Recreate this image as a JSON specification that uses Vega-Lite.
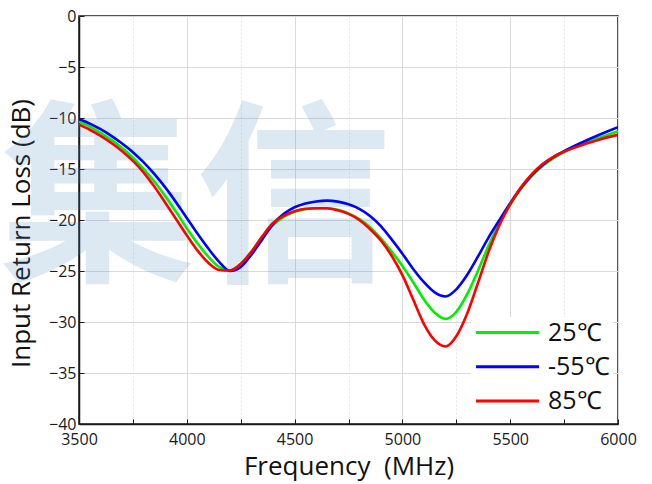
{
  "$schema": "https://vega.github.io/schema/vega-lite/v6.json",
  "width": 539,
  "height": 408,
  "autosize": {"type": "none"},
  "padding": {"left": 79, "top": 16, "right": 34, "bottom": 60},
  "background": "white",
  "config": {
    "view": {"stroke": "#1a1a1a", "strokeWidth": 1.5},
    "font": "Open Sans",
    "axis": {
      "domainColor": "#1a1a1a",
      "domainWidth": 1.5,
      "tickColor": "#1a1a1a",
      "tickWidth": 1,
      "tickSize": -5,
      "labelFlush": false,
      "labelFont": "Open Sans",
      "labelFontSize": 16,
      "labelColor": "#1a1a1a",
      "titleFont": "Open Sans",
      "titleFontSize": 26,
      "titleFontWeight": "normal",
      "titleColor": "#111111"
    }
  },
  "datasets": {
    "mark": [{"label": "集信", "f": 4043, "db": -18.7}],
    "curves": [
      {"series": "25℃", "f": 3500, "db": -10.35},
      {"series": "25℃", "f": 3550, "db": -10.85},
      {"series": "25℃", "f": 3600, "db": -11.45},
      {"series": "25℃", "f": 3650, "db": -12.15},
      {"series": "25℃", "f": 3700, "db": -12.95},
      {"series": "25℃", "f": 3750, "db": -13.9},
      {"series": "25℃", "f": 3800, "db": -15.0},
      {"series": "25℃", "f": 3850, "db": -16.25},
      {"series": "25℃", "f": 3900, "db": -17.65},
      {"series": "25℃", "f": 3950, "db": -19.2},
      {"series": "25℃", "f": 4000, "db": -20.8},
      {"series": "25℃", "f": 4050, "db": -22.3},
      {"series": "25℃", "f": 4100, "db": -23.6},
      {"series": "25℃", "f": 4150, "db": -24.6},
      {"series": "25℃", "f": 4200, "db": -24.95},
      {"series": "25℃", "f": 4250, "db": -24.3},
      {"series": "25℃", "f": 4300, "db": -23.1},
      {"series": "25℃", "f": 4350, "db": -21.7},
      {"series": "25℃", "f": 4400, "db": -20.5},
      {"series": "25℃", "f": 4450, "db": -19.7},
      {"series": "25℃", "f": 4500, "db": -19.2},
      {"series": "25℃", "f": 4550, "db": -18.95},
      {"series": "25℃", "f": 4600, "db": -18.85},
      {"series": "25℃", "f": 4650, "db": -18.85},
      {"series": "25℃", "f": 4700, "db": -19.0},
      {"series": "25℃", "f": 4750, "db": -19.35},
      {"series": "25℃", "f": 4800, "db": -19.9},
      {"series": "25℃", "f": 4850, "db": -20.7},
      {"series": "25℃", "f": 4900, "db": -21.8},
      {"series": "25℃", "f": 4950, "db": -23.1},
      {"series": "25℃", "f": 5000, "db": -24.5},
      {"series": "25℃", "f": 5050, "db": -26.1},
      {"series": "25℃", "f": 5100, "db": -27.8},
      {"series": "25℃", "f": 5150, "db": -29.1},
      {"series": "25℃", "f": 5200, "db": -29.7},
      {"series": "25℃", "f": 5250, "db": -29.0},
      {"series": "25℃", "f": 5300, "db": -27.3},
      {"series": "25℃", "f": 5350, "db": -25.0},
      {"series": "25℃", "f": 5400, "db": -22.5},
      {"series": "25℃", "f": 5450, "db": -20.3},
      {"series": "25℃", "f": 5500, "db": -18.5},
      {"series": "25℃", "f": 5550, "db": -16.95},
      {"series": "25℃", "f": 5600, "db": -15.7},
      {"series": "25℃", "f": 5650, "db": -14.7},
      {"series": "25℃", "f": 5700, "db": -13.95},
      {"series": "25℃", "f": 5750, "db": -13.35},
      {"series": "25℃", "f": 5800, "db": -12.85},
      {"series": "25℃", "f": 5850, "db": -12.42},
      {"series": "25℃", "f": 5900, "db": -12.03},
      {"series": "25℃", "f": 5950, "db": -11.66},
      {"series": "25℃", "f": 6000, "db": -11.3},
      {"series": "-55℃", "f": 3500, "db": -10.1},
      {"series": "-55℃", "f": 3550, "db": -10.55},
      {"series": "-55℃", "f": 3600, "db": -11.1},
      {"series": "-55℃", "f": 3650, "db": -11.75},
      {"series": "-55℃", "f": 3700, "db": -12.5},
      {"series": "-55℃", "f": 3750, "db": -13.35},
      {"series": "-55℃", "f": 3800, "db": -14.35},
      {"series": "-55℃", "f": 3850, "db": -15.5},
      {"series": "-55℃", "f": 3900, "db": -16.8},
      {"series": "-55℃", "f": 3950, "db": -18.25},
      {"series": "-55℃", "f": 4000, "db": -19.8},
      {"series": "-55℃", "f": 4050, "db": -21.35},
      {"series": "-55℃", "f": 4100, "db": -22.8},
      {"series": "-55℃", "f": 4150, "db": -24.1},
      {"series": "-55℃", "f": 4200, "db": -25.0},
      {"series": "-55℃", "f": 4250, "db": -24.6},
      {"series": "-55℃", "f": 4300, "db": -23.4},
      {"series": "-55℃", "f": 4350, "db": -21.9},
      {"series": "-55℃", "f": 4400, "db": -20.4},
      {"series": "-55℃", "f": 4450, "db": -19.4},
      {"series": "-55℃", "f": 4500, "db": -18.75},
      {"series": "-55℃", "f": 4550, "db": -18.38},
      {"series": "-55℃", "f": 4600, "db": -18.18},
      {"series": "-55℃", "f": 4650, "db": -18.1},
      {"series": "-55℃", "f": 4700, "db": -18.2},
      {"series": "-55℃", "f": 4750, "db": -18.45},
      {"series": "-55℃", "f": 4800, "db": -18.9},
      {"series": "-55℃", "f": 4850, "db": -19.6},
      {"series": "-55℃", "f": 4900, "db": -20.6},
      {"series": "-55℃", "f": 4950, "db": -21.9},
      {"series": "-55℃", "f": 5000, "db": -23.3},
      {"series": "-55℃", "f": 5050, "db": -24.8},
      {"series": "-55℃", "f": 5100, "db": -26.1},
      {"series": "-55℃", "f": 5150, "db": -27.1},
      {"series": "-55℃", "f": 5200, "db": -27.5},
      {"series": "-55℃", "f": 5250, "db": -26.8},
      {"series": "-55℃", "f": 5300, "db": -25.4},
      {"series": "-55℃", "f": 5350, "db": -23.6},
      {"series": "-55℃", "f": 5400, "db": -21.7},
      {"series": "-55℃", "f": 5450, "db": -20.0},
      {"series": "-55℃", "f": 5500, "db": -18.35},
      {"series": "-55℃", "f": 5550, "db": -16.85},
      {"series": "-55℃", "f": 5600, "db": -15.6},
      {"series": "-55℃", "f": 5650, "db": -14.6},
      {"series": "-55℃", "f": 5700, "db": -13.85},
      {"series": "-55℃", "f": 5750, "db": -13.25},
      {"series": "-55℃", "f": 5800, "db": -12.72},
      {"series": "-55℃", "f": 5850, "db": -12.23},
      {"series": "-55℃", "f": 5900, "db": -11.77},
      {"series": "-55℃", "f": 5950, "db": -11.33},
      {"series": "-55℃", "f": 6000, "db": -10.9},
      {"series": "85℃", "f": 3500, "db": -10.65},
      {"series": "85℃", "f": 3550, "db": -11.15},
      {"series": "85℃", "f": 3600, "db": -11.75},
      {"series": "85℃", "f": 3650, "db": -12.45},
      {"series": "85℃", "f": 3700, "db": -13.25},
      {"series": "85℃", "f": 3750, "db": -14.2},
      {"series": "85℃", "f": 3800, "db": -15.35},
      {"series": "85℃", "f": 3850, "db": -16.75},
      {"series": "85℃", "f": 3900, "db": -18.3},
      {"series": "85℃", "f": 3950, "db": -19.9},
      {"series": "85℃", "f": 4000, "db": -21.5},
      {"series": "85℃", "f": 4050, "db": -23.0},
      {"series": "85℃", "f": 4100, "db": -24.2},
      {"series": "85℃", "f": 4150, "db": -24.9},
      {"series": "85℃", "f": 4200, "db": -24.95},
      {"series": "85℃", "f": 4250, "db": -24.3},
      {"series": "85℃", "f": 4300, "db": -23.1},
      {"series": "85℃", "f": 4350, "db": -21.6},
      {"series": "85℃", "f": 4400, "db": -20.3},
      {"series": "85℃", "f": 4450, "db": -19.6},
      {"series": "85℃", "f": 4500, "db": -19.15},
      {"series": "85℃", "f": 4550, "db": -18.9},
      {"series": "85℃", "f": 4600, "db": -18.85},
      {"series": "85℃", "f": 4650, "db": -18.85},
      {"series": "85℃", "f": 4700, "db": -19.05},
      {"series": "85℃", "f": 4750, "db": -19.4},
      {"series": "85℃", "f": 4800, "db": -20.0},
      {"series": "85℃", "f": 4850, "db": -20.9},
      {"series": "85℃", "f": 4900, "db": -22.0},
      {"series": "85℃", "f": 4950, "db": -23.5},
      {"series": "85℃", "f": 5000, "db": -25.4},
      {"series": "85℃", "f": 5050, "db": -27.8},
      {"series": "85℃", "f": 5100, "db": -30.2},
      {"series": "85℃", "f": 5150, "db": -31.8},
      {"series": "85℃", "f": 5200, "db": -32.4},
      {"series": "85℃", "f": 5250, "db": -31.4},
      {"series": "85℃", "f": 5300, "db": -29.2},
      {"series": "85℃", "f": 5350, "db": -26.2},
      {"series": "85℃", "f": 5400, "db": -23.1},
      {"series": "85℃", "f": 5450, "db": -20.5},
      {"series": "85℃", "f": 5500, "db": -18.45},
      {"series": "85℃", "f": 5550, "db": -16.8},
      {"series": "85℃", "f": 5600, "db": -15.5},
      {"series": "85℃", "f": 5650, "db": -14.5},
      {"series": "85℃", "f": 5700, "db": -13.8},
      {"series": "85℃", "f": 5750, "db": -13.3},
      {"series": "85℃", "f": 5800, "db": -12.9},
      {"series": "85℃", "f": 5850, "db": -12.53},
      {"series": "85℃", "f": 5900, "db": -12.2},
      {"series": "85℃", "f": 5950, "db": -11.9},
      {"series": "85℃", "f": 6000, "db": -11.65}
    ]
  },
  "layer": [
    {
      "data": {"name": "mark"},
      "mark": {"type": "text", "font": "Noto Sans CJK SC", "fontWeight": "bold", "fontSize": 196, "fill": "#4a8ac0", "opacity": 0.19, "align": "center", "baseline": "middle"},
      "encoding": {
        "x": {"field": "f", "type": "quantitative"},
        "y": {"field": "db", "type": "quantitative"},
        "text": {"field": "label"}
      }
    },
    {
      "data": {"name": "curves"},
      "mark": {"type": "line", "strokeWidth": 2.6, "interpolate": "monotone", "clip": true},
      "encoding": {
        "x": {
          "field": "f", "type": "quantitative",
          "scale": {"domain": [3500, 6000], "nice": false, "zero": false},
          "axis": {
            "title": "Frequency\u00a0 (MHz)",
            "values": [3500, 3750, 4000, 4250, 4500, 4750, 5000, 5250, 5500, 5750, 6000],
            "format": "d",
            "labelExpr": "datum.value % 500 === 0 ? datum.label : ''",
            "labelPadding": 12,
            "titlePadding": 6,
            "gridColor": {"condition": {"test": "datum.value % 500 === 0", "value": "#d9d9d9"}, "value": "#e6e6e6"},
            "gridDash": {"condition": {"test": "datum.value % 500 === 0", "value": []}, "value": [2, 2]},
            "gridWidth": 1
          }
        },
        "y": {
          "field": "db", "type": "quantitative",
          "scale": {"domain": [-40, 0], "nice": false, "zero": false},
          "axis": {
            "title": "Input Return Loss (dB)",
            "values": [-40, -37.5, -35, -32.5, -30, -27.5, -25, -22.5, -20, -17.5, -15, -12.5, -10, -7.5, -5, -2.5, 0],
            "labelExpr": "datum.value % 5 === 0 ? datum.label : ''",
            "labelPadding": 8,
            "titlePadding": 14,
            "titleY": 217,
            "gridColor": {"condition": {"test": "datum.value % 5 === 0", "value": "#d9d9d9"}, "value": "#e6e6e6"},
            "gridDash": {"condition": {"test": "datum.value % 5 === 0", "value": []}, "value": [2, 2]},
            "gridWidth": 1
          }
        },
        "color": {
          "field": "series", "type": "nominal",
          "scale": {"domain": ["25℃", "-55℃", "85℃"], "range": ["#00ee00", "#0000ff", "#ff0000"]},
          "legend": {
            "title": null,
            "orient": "none",
            "legendX": 392,
            "legendY": 301,
            "padding": 3,
            "fillColor": "white",
            "symbolType": "M-1,0H5",
            "symbolSize": 441,
            "symbolStrokeWidth": 3,
            "labelFont": "Open Sans",
            "labelFontSize": 25,
            "labelColor": "#111111",
            "labelOffset": 49,
            "rowPadding": 8.3
          }
        }
      }
    }
  ]
}
